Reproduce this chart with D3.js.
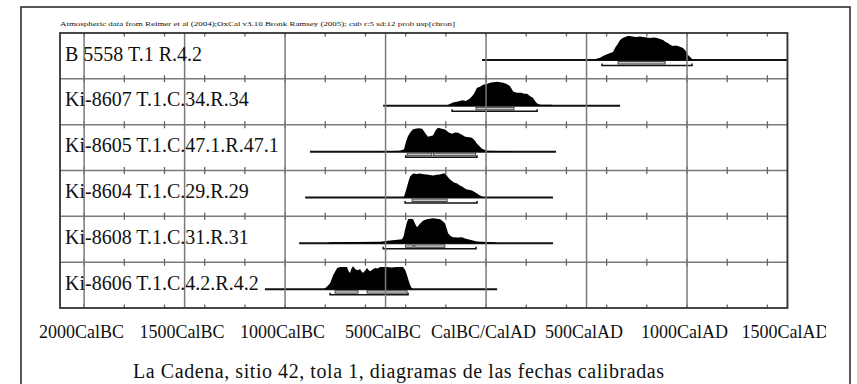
<!DOCTYPE html>
<html>
<head>
<meta charset="utf-8">
<script src="https://cdn.jsdelivr.net/npm/d3@7"></script>
<style>
  body { margin: 0; background: #fff; }
  text { font-family: "Liberation Serif", "Times New Roman", serif; fill: #111; }
</style>
</head>
<body>
<div id="chart"></div>
<script>
// samples, top to bottom
const labels = ["B 5558 T.1 R.4.2", "Ki-8607 T.1.C.34.R.34", "Ki-8605 T.1.C.47.1.R.47.1",
                "Ki-8604 T.1.C.29.R.29", "Ki-8608 T.1.C.31.R.31", "Ki-8606 T.1.C.4.2.R.4.2"];
// extent of the plotted line for each sample (cal years, negative = BC)
const lineFrom = [-20, -512, -876, -900, -930, -1100];
const lineTo = [1500, 667, 348, 333, 333, 55];
// 95.4% and 68.2% ranges
const range95 = [[[577, 1025]], [[-169, 254]], [[-400, -45]], [[-403, -45]], [[-512, -50]], [[-776, -388]]];
const range68 = [[[657, 891]], [[-50, 139]], [[-392, -270], [-262, -52]], [[-368, -194]],
                 [[-400, -362], [-355, -205]], [[-751, -637], [-592, -393]]];
// calibrated probability distributions [year, relative probability]
const dist_B5558 = [[530,0],[542,0.03],[570,0.1],[582,0.17],[605,0.25],[632,0.33],[645,0.55],[652,0.62],[667,0.83],
  [680,0.92],[692,0.96],[705,1],[716,1],[735,0.97],[751,0.96],[766,0.98],[781,0.96],[800,0.94],[816,0.92],
  [835,0.94],[851,0.92],[866,0.88],[881,0.83],[893,0.75],[905,0.71],[918,0.62],[930,0.58],[942,0.6],[955,0.58],
  [968,0.54],[980,0.5],[992,0.4],[1005,0.21],[1018,0.1],[1030,0]];
const dist_Ki8607 = [[-200,0],[-194,0.02],[-164,0.14],[-140,0.18],[-119,0.23],[-100,0.2],[-80,0.31],[-70,0.4],
  [-60,0.5],[-45,0.75],[-30,0.8],[-15,0.88],[0,0.9],[20,0.96],[35,0.98],[55,1],[70,0.98],[85,0.96],[100,0.92],
  [119,0.83],[135,0.6],[154,0.54],[175,0.55],[190,0.5],[204,0.5],[220,0.4],[234,0.33],[248,0.15],[259,0.08],
  [270,0.04],[284,0.04],[310,0.05],[328,0.04],[333,0]];
const dist_Ki8605 = [[-530,0],[-517,0.02],[-470,0.03],[-428,0.04],[-408,0.1],[-398,0.42],[-388,0.65],[-378,0.79],
  [-365,0.92],[-353,0.96],[-335,0.98],[-318,0.96],[-300,0.75],[-289,0.62],[-275,0.65],[-264,0.67],[-250,0.9],
  [-239,1],[-220,0.96],[-204,0.92],[-185,0.8],[-169,0.75],[-155,0.8],[-139,0.79],[-120,0.7],[-104,0.62],
  [-85,0.6],[-70,0.58],[-55,0.45],[-45,0.33],[-30,0.2],[-20,0.12],[5,0.04],[60,0.03],[129,0.03],[134,0]];
const dist_Ki8604 = [[-415,0],[-408,0.04],[-400,0.25],[-393,0.46],[-385,0.7],[-378,0.88],[-363,1],[-345,0.98],
  [-328,1],[-310,0.97],[-294,0.96],[-280,0.94],[-264,0.92],[-245,0.95],[-229,0.96],[-215,1],[-204,1],[-190,0.85],
  [-179,0.75],[-160,0.62],[-144,0.58],[-130,0.5],[-119,0.46],[-105,0.38],[-95,0.33],[-80,0.31],[-70,0.29],
  [-55,0.22],[-45,0.17],[-30,0.08],[-20,0.04],[-5,0]];
const dist_Ki8608 = [[-790,0],[-776,0.05],[-650,0.06],[-527,0.07],[-478,0.12],[-440,0.15],[-418,0.17],[-410,0.3],
  [-403,0.58],[-395,0.85],[-388,1],[-375,1.02],[-363,1],[-352,0.8],[-343,0.67],[-335,0.75],[-328,0.83],[-312,0.95],
  [-294,1],[-280,1.02],[-264,1.04],[-245,1.02],[-229,1],[-215,0.92],[-204,0.83],[-195,0.6],[-189,0.42],[-175,0.3],
  [-164,0.25],[-140,0.24],[-119,0.25],[-105,0.2],[-90,0.17],[-65,0.12],[-45,0.08],[5,0.06],[40,0.04],[60,0]];
const dist_Ki8606 = [[-810,0],[-801,0.04],[-790,0.12],[-776,0.25],[-761,0.58],[-750,0.75],[-741,0.88],[-726,0.92],
  [-710,0.92],[-692,0.92],[-684,0.75],[-677,0.67],[-670,0.85],[-662,0.96],[-652,0.85],[-642,0.79],[-627,0.83],
  [-620,0.75],[-612,0.67],[-600,0.8],[-592,0.88],[-585,0.8],[-577,0.75],[-565,0.82],[-552,0.88],[-540,0.86],
  [-527,0.92],[-510,0.92],[-493,0.92],[-470,0.9],[-443,0.92],[-428,0.92],[-413,0.92],[-402,0.8],[-393,0.58],
  [-385,0.35],[-378,0.17],[-370,0.05],[-363,0]];
const dists = [dist_B5558, dist_Ki8607, dist_Ki8605, dist_Ki8604, dist_Ki8608, dist_Ki8606];
// axis
const gridYears = [-2000, -1500, -1000, -500, 0, 500, 1000, 1500];
const minorYears = d3.range(-2000, 1500, 200);
const axisLabels = ["2000CalBC", "1500CalBC", "1000CalBC", "500CalBC", "CalBC/CalAD", "500CalAD", "1000CalAD", "1500CalAD"];
const header = "Atmospheric data from Reimer et al (2004);OxCal v3.10 Bronk Ramsey (2005); cub r:5 sd:12 prob usp[chron]";
const title = "La Cadena, sitio 42, tola 1, diagramas de las fechas calibradas";

var w = 857, h = 384;
var pLeft = 60, pRight = 787.5, pTop = 33, pBottom = 308;

var svg = d3.select("#chart").append("svg")
    .attr("width", w)
    .attr("height", h);

svg.append("rect").attr("width", w).attr("height", h).attr("fill", "#fff");

// outer frame
svg.append("rect")
    .attr("x", 21).attr("y", 7)
    .attr("width", 829).attr("height", 400)
    .attr("fill", "none")
    .attr("stroke", "#222")
    .attr("stroke-width", 1.5);

svg.append("text")
    .attr("x", pLeft).attr("y", 26)
    .attr("font-size", 7)
    .attr("textLength", 395)
    .attr("lengthAdjust", "spacingAndGlyphs")
    .text(header);

var x = d3.scaleLinear().domain([-2120, 1500]).range([pLeft, pRight]);
var y = d3.scaleBand().domain(labels).range([pTop, pBottom]);
var hgt = d3.scaleLinear().domain([0, 1]).range([0, 24]);

var defs = svg.append("defs");
defs.append("clipPath").attr("id", "plotclip")
  .append("rect").attr("x", pLeft).attr("y", pTop).attr("width", pRight - pLeft).attr("height", pBottom - pTop);
defs.append("clipPath").attr("id", "labclip")
  .append("rect").attr("x", -10).attr("y", -40).attr("width", 839).attr("height", 80);

var plot = svg.append("g").attr("clip-path", "url(#plotclip)");

// row separators
var seps = labels.slice(1).map(function(d) { return y(d); });
plot.selectAll("line.sep")
    .data(seps)
    .enter().append("line")
    .attr("class", "sep")
    .attr("x1", pLeft).attr("x2", pRight)
    .attr("y1", function(d) { return d; }).attr("y2", function(d) { return d; })
    .attr("stroke", "#7a7a7a").attr("stroke-width", 1.5);

// minor ticks on every horizontal line
var hLines = [pTop].concat(seps).concat([pBottom]);
hLines.forEach(function(yy) {
  plot.selectAll(null)
      .data(minorYears)
      .enter().append("line")
      .attr("x1", function(d) { return x(d); }).attr("x2", function(d) { return x(d); })
      .attr("y1", yy - 3.5).attr("y2", yy + 3.5)
      .attr("stroke", "#666").attr("stroke-width", 1.3);
});

// sample labels
svg.selectAll("text.lab")
    .data(labels)
    .enter().append("text")
    .attr("class", "lab")
    .attr("x", 65)
    .attr("y", function(d) { return y(d) + 27.5; })
    .attr("font-size", 20)
    .text(function(d) { return d; });

var rows = plot.selectAll("g.row")
    .data(labels)
    .enter().append("g")
    .attr("class", "row")
    .attr("transform", function(d) { return "translate(0," + (y(d) + 27) + ")"; });

// baseline
rows.append("line")
    .attr("x1", function(d, i) { return x(lineFrom[i]); })
    .attr("x2", function(d, i) { return x(lineTo[i]); })
    .attr("stroke", "#111").attr("stroke-width", 2);

// distribution
var area = d3.area()
    .x(function(d) { return x(d[0]); })
    .y0(0)
    .y1(function(d) { return -hgt(d[1]); });
rows.append("path")
    .attr("d", function(d, i) { return area(dists[i]); })
    .attr("fill", "#000");

// 68.2% boxes
rows.selectAll("rect.r68")
    .data(function(d, i) { return range68[i]; })
    .enter().append("rect")
    .attr("class", "r68")
    .attr("x", function(d) { return x(d[0]); })
    .attr("width", function(d) { return x(d[1]) - x(d[0]); })
    .attr("y", 1.5).attr("height", 2.5)
    .attr("fill", "#c8c8c8").attr("stroke", "#444").attr("stroke-width", 1);

// 95.4% brackets
rows.selectAll("path.r95")
    .data(function(d, i) { return range95[i]; })
    .enter().append("path")
    .attr("class", "r95")
    .attr("d", function(d) {
      return "M" + x(d[0]) + ",3.5V5.5H" + x(d[1]) + "V3.5";
    })
    .attr("fill", "none").attr("stroke", "#111").attr("stroke-width", 1.5);

// vertical grid lines on top
plot.selectAll("line.grid")
    .data(gridYears)
    .enter().append("line")
    .attr("class", "grid")
    .attr("x1", function(d) { return x(d); }).attr("x2", function(d) { return x(d); })
    .attr("y1", pTop).attr("y2", pBottom)
    .attr("stroke", "#7a7a7a").attr("stroke-width", 1.5);

// plot border
svg.append("rect")
    .attr("x", pLeft).attr("y", pTop)
    .attr("width", pRight - pLeft).attr("height", pBottom - pTop)
    .attr("fill", "none").attr("stroke", "#333").attr("stroke-width", 1.8);

// axis labels
var axis = d3.axisBottom(x)
    .tickValues(gridYears)
    .tickSize(0)
    .tickPadding(0)
    .tickFormat(function(d, i) { return axisLabels[i]; });
var ax = svg.append("g")
    .attr("transform", "translate(-3,338)")
    .attr("clip-path", "url(#labclip)")
    .call(axis);
ax.select(".domain").remove();
ax.selectAll("text")
    .attr("dy", 0).attr("y", 0)
    .attr("font-size", 18)
    .attr("font-family", "Liberation Serif")
    .attr("fill", "#111");

svg.append("text")
    .attr("x", 133).attr("y", 378)
    .attr("font-size", 20)
    .attr("textLength", 531)
    .attr("lengthAdjust", "spacing")
    .text(title);
</script>
</body>
</html>
